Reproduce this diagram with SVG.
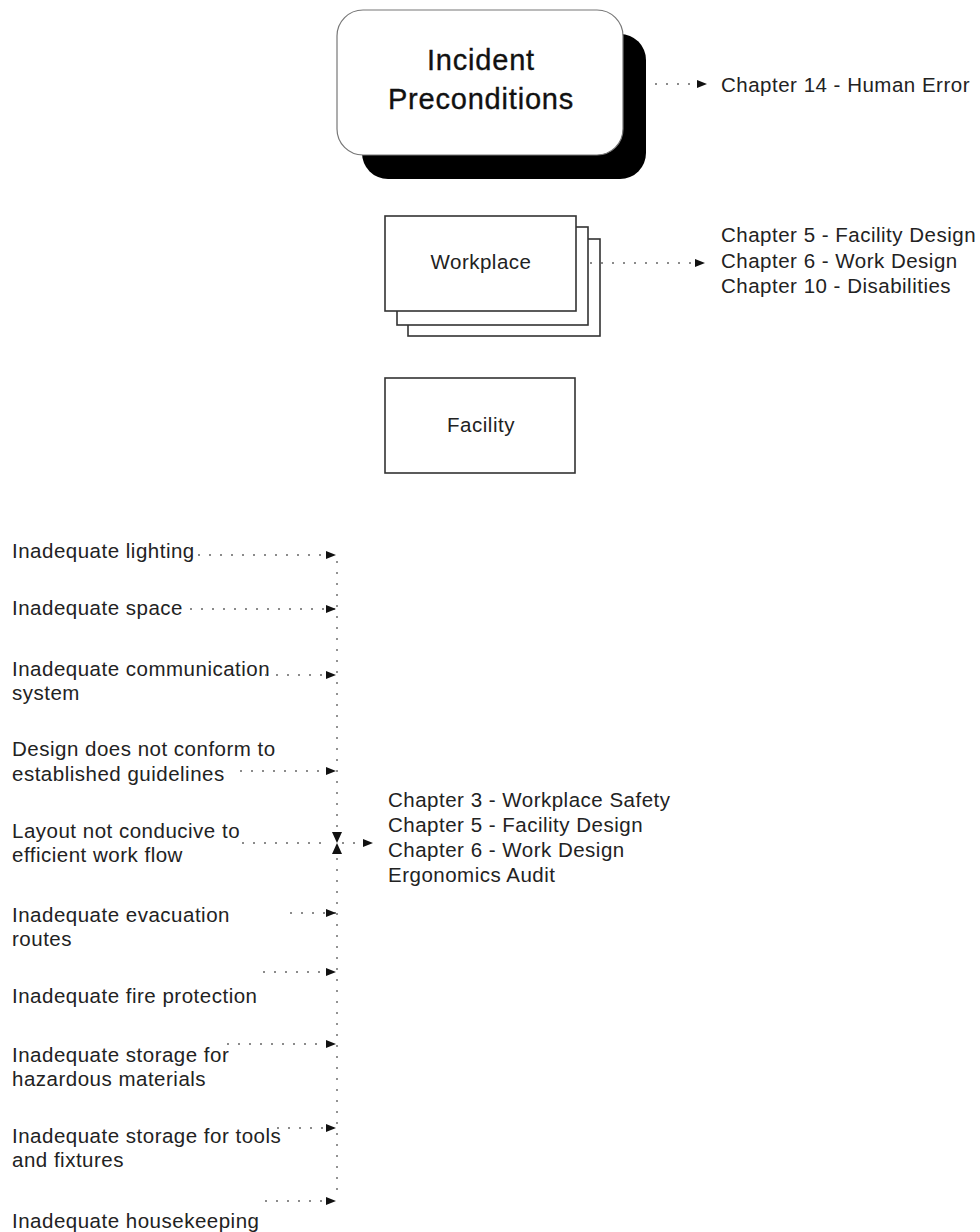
<svg xmlns="http://www.w3.org/2000/svg" width="980" height="1232" viewBox="0 0 980 1232">
  <style>
    .t { font-family: "Liberation Sans", Arial, sans-serif; font-size: 20.5px; letter-spacing: 0.5px; fill: #222; }
    .title { font-family: "Liberation Sans", Arial, sans-serif; font-size: 29px; letter-spacing: 0.8px; fill: #111; stroke: #111; stroke-width: 0.35; text-anchor: middle; }
    .mid { text-anchor: middle; }
    .box { fill: #fff; stroke: #333; stroke-width: 1.6; }
    .dot { fill: none; stroke: #666; stroke-width: 1.4; stroke-dasharray: 2 9; }
  </style>
  <defs>
    <marker id="arrow" viewBox="0 0 10 8" refX="10" refY="4" markerWidth="10" markerHeight="8" markerUnits="userSpaceOnUse" orient="auto">
      <path d="M0,0 L10,4 L0,8 Z" fill="#111"/>
    </marker>
  </defs>

  <rect width="980" height="1232" fill="#fff"/>

  <!-- Incident Preconditions: rounded box with heavy drop shadow -->
  <g id="incident-preconditions">
    <rect x="362" y="34" width="284" height="145" rx="26" fill="#000"/>
    <rect x="337" y="10" width="286" height="145" rx="26" fill="#fff" stroke="#777" stroke-width="1.2"/>
    <text class="title" x="481" y="70">Incident</text>
    <text class="title" x="481" y="109">Preconditions</text>
  </g>

  <!-- Workplace: stacked boxes -->
  <g id="workplace">
    <rect class="box" x="408" y="239" width="192" height="97"/>
    <rect class="box" x="397" y="227" width="191" height="98"/>
    <rect class="box" x="385" y="216" width="191" height="95"/>
    <text class="t mid" x="481" y="269">Workplace</text>
  </g>

  <!-- Facility -->
  <g id="facility">
    <rect class="box" x="385" y="378" width="190" height="95"/>
    <text class="t mid" x="481" y="432">Facility</text>
  </g>

  <!-- Reference lists -->
  <g id="ref-human-error">
    <text class="t" x="721" y="92">Chapter 14 - Human Error</text>
  </g>
  <g id="ref-workplace">
    <text class="t" x="721" y="242">Chapter 5 - Facility Design</text>
    <text class="t" x="721" y="268">Chapter 6 - Work Design</text>
    <text class="t" x="721" y="293">Chapter 10 - Disabilities</text>
  </g>
  <g id="ref-facility">
    <text class="t" x="388" y="807">Chapter 3 - Workplace Safety</text>
    <text class="t" x="388" y="832">Chapter 5 - Facility Design</text>
    <text class="t" x="388" y="857">Chapter 6 - Work Design</text>
    <text class="t" x="388" y="882">Ergonomics Audit</text>
  </g>

  <!-- Facility deficiency items -->
  <g id="item-lighting"><text class="t" x="12" y="558">Inadequate lighting</text></g>
  <g id="item-space"><text class="t" x="12" y="615">Inadequate space</text></g>
  <g id="item-communication">
    <text class="t" x="12" y="676">Inadequate communication</text>
    <text class="t" x="12" y="700">system</text>
  </g>
  <g id="item-guidelines">
    <text class="t" x="12" y="756">Design does not conform to</text>
    <text class="t" x="12" y="781">established guidelines</text>
  </g>
  <g id="item-layout">
    <text class="t" x="12" y="838">Layout not conducive to</text>
    <text class="t" x="12" y="862">efficient work flow</text>
  </g>
  <g id="item-evacuation">
    <text class="t" x="12" y="922">Inadequate evacuation</text>
    <text class="t" x="12" y="946">routes</text>
  </g>
  <g id="item-fire"><text class="t" x="12" y="1003">Inadequate fire protection</text></g>
  <g id="item-hazardous">
    <text class="t" x="12" y="1062">Inadequate storage for</text>
    <text class="t" x="12" y="1086">hazardous materials</text>
  </g>
  <g id="item-tools">
    <text class="t" x="12" y="1143">Inadequate storage for tools</text>
    <text class="t" x="12" y="1167">and fixtures</text>
  </g>
  <g id="item-housekeeping"><text class="t" x="12" y="1228">Inadequate housekeeping</text></g>

  <!-- Connectors -->
  <g id="connectors">
    <line class="dot" x1="655" y1="84" x2="707" y2="84" marker-end="url(#arrow)"/>
    <line class="dot" x1="590" y1="263" x2="705" y2="263" marker-end="url(#arrow)"/>

    <line class="dot" x1="337" y1="561" x2="337" y2="1192"/>

    <line class="dot" x1="198" y1="555" x2="336" y2="555" marker-end="url(#arrow)"/>
    <line class="dot" x1="190" y1="609" x2="336" y2="609" marker-end="url(#arrow)"/>
    <line class="dot" x1="265" y1="675" x2="336" y2="675" marker-end="url(#arrow)"/>
    <line class="dot" x1="240" y1="771" x2="336" y2="771" marker-end="url(#arrow)"/>
    <line class="dot" x1="242" y1="843" x2="330" y2="843"/>
    <line class="dot" x1="290" y1="913" x2="336" y2="913" marker-end="url(#arrow)"/>
    <line class="dot" x1="263" y1="972" x2="336" y2="972" marker-end="url(#arrow)"/>
    <line class="dot" x1="227" y1="1044" x2="336" y2="1044" marker-end="url(#arrow)"/>
    <line class="dot" x1="277" y1="1128" x2="336" y2="1128" marker-end="url(#arrow)"/>
    <line class="dot" x1="265" y1="1201" x2="336" y2="1201" marker-end="url(#arrow)"/>

    <!-- merge point: vertical trunk converging from above and below -->
    <path d="M332,832 L342,832 L337,843 Z" fill="#111"/>
    <path d="M332,854 L342,854 L337,843 Z" fill="#111"/>
    <line class="dot" x1="342" y1="843" x2="373" y2="843" marker-end="url(#arrow)"/>
  </g>
</svg>
